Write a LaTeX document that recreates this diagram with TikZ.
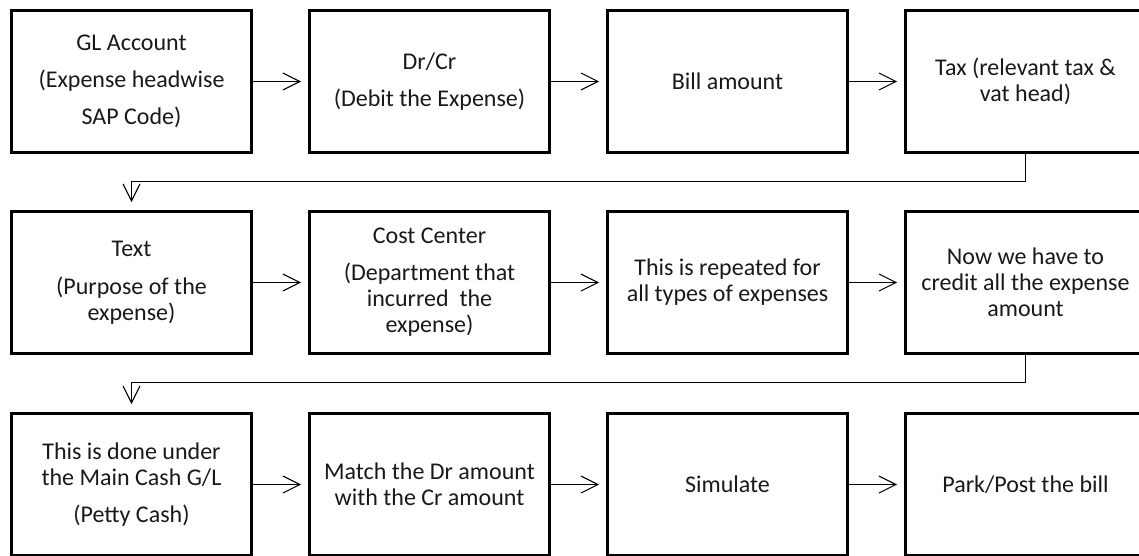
\documentclass[tikz,border=0pt]{standalone}
\usepackage{fontspec}
\setmainfont{Carlito}
\usetikzlibrary{arrows.meta}

\tikzset{
  stepbox/.style={draw=black, line width=2.6pt, rectangle,
    minimum width=240pt, minimum height=142pt, inner sep=0pt,
    align=center, font=\fontsize{24}{26}\selectfont, text=black!90},
  flow/.style={draw=black, line width=1.1pt,
    -{Straight Barb[length=17pt,width=17pt,line width=1.1pt]},
    shorten >=7pt},
}

\begin{document}
\begin{tikzpicture}[x=1pt,y=-1pt]
  \useasboundingbox (0,0) rectangle (1139,556);
  \clip (0,0) rectangle (1139,556);

  % first row
  \node[stepbox] (b1) at (131.5,81.5) {GL Account\\[11pt](Expense headwise\\[11pt]SAP Code)};
  \node[stepbox] (b2) at (429.5,81.5) {Dr/Cr\\[11pt](Debit the Expense)};
  \node[stepbox] (b3) at (727.5,81.5) {Bill amount};
  \node[stepbox] (b4) at (1025.5,81.5) {Tax (relevant tax \&\\vat head)};

  % second row
  \node[stepbox] (b5) at (131.5,282.5) {Text\\[12pt](Purpose of the\\expense)};
  \node[stepbox] (b6) at (429.5,282.5) {Cost Center\\[11pt](Department that\\incurred~ the\\expense)};
  \node[stepbox] (b7) at (727.5,282.5) {This is repeated for\\all types of expenses};
  \node[stepbox] (b8) at (1025.5,282.5) {Now we have to\\credit all the expense\\amount};

  % third row
  \node[stepbox] (b9) at (131.5,484.5) {This is done under\\the Main Cash G/L\\[11pt](Petty Cash)};
  \node[stepbox] (b10) at (429.5,484.5) {Match the Dr amount\\with the Cr amount};
  \node[stepbox] (b11) at (727.5,484.5) {Simulate};
  \node[stepbox] (b12) at (1025.5,484.5) {Park/Post the bill};

  % connectors within rows
  \draw[flow] (b1.east) -- (b2.west);
  \draw[flow] (b2.east) -- (b3.west);
  \draw[flow] (b3.east) -- (b4.west);
  \draw[flow] (b5.east) -- (b6.west);
  \draw[flow] (b6.east) -- (b7.west);
  \draw[flow] (b7.east) -- (b8.west);
  \draw[flow] (b9.east) -- (b10.west);
  \draw[flow] (b10.east) -- (b11.west);
  \draw[flow] (b11.east) -- (b12.west);

  % wrap-around connectors between rows
  \draw[flow, shorten >=8pt] (b4.south) -- ++(0,28) -| (b5.north);
  \draw[flow, shorten >=8pt] (b8.south) -- ++(0,28) -| (b9.north);
\end{tikzpicture}
\end{document}
